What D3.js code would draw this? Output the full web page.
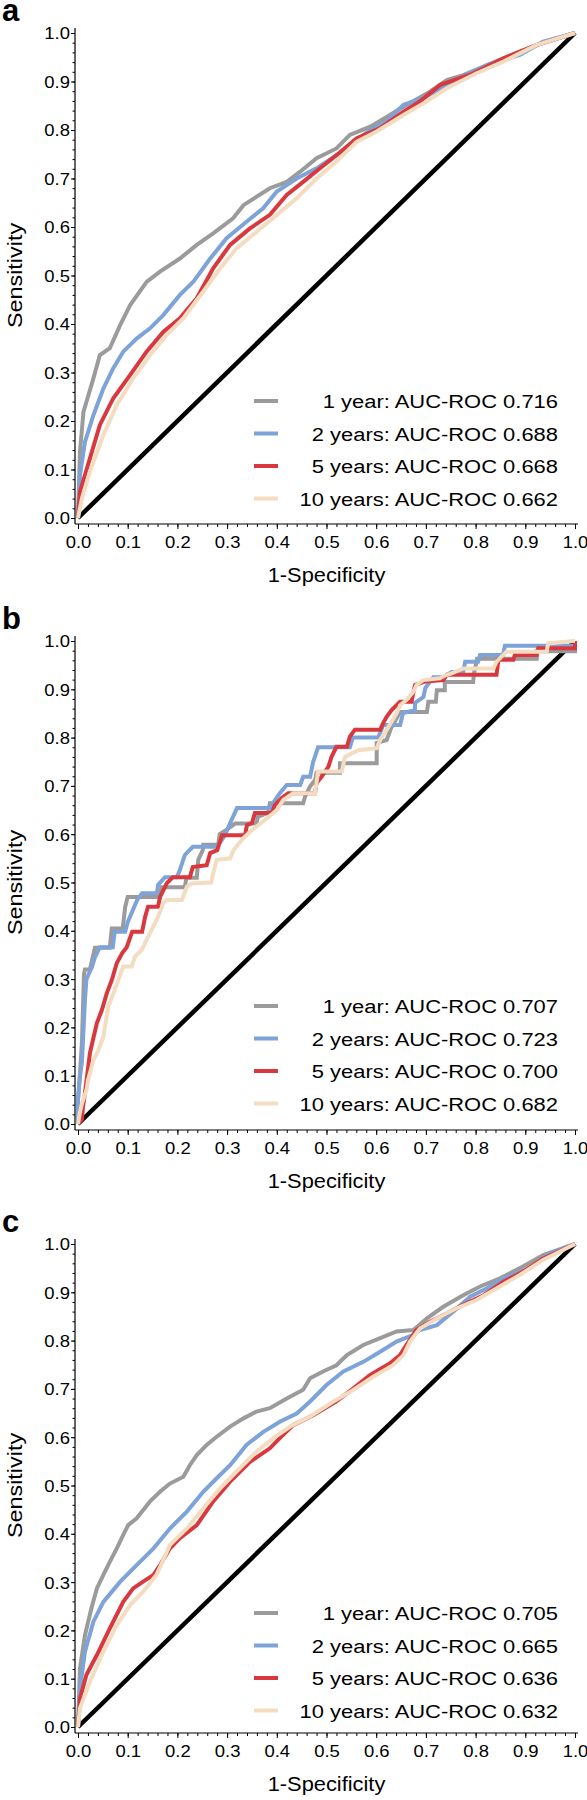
<!DOCTYPE html>
<html><head><meta charset="utf-8">
<script src="https://cdn.jsdelivr.net/npm/d3@7"></script>
<style>
html,body{margin:0;padding:0;background:#fff;}
svg{display:block;}
text{font-family:"Liberation Sans",Arial,Helvetica,sans-serif;fill:#000;}
</style></head>
<body><svg id="chart" width="587" height="1800"></svg>
<script>
// ---------- data ----------
const seriesNames = ["1 year", "2 years", "5 years", "10 years"];
const seriesColors = ["#9b9b9b", "#7da3d8", "#d9393e", "#f3dcc0"];
const aucA = ["0.716", "0.688", "0.668", "0.662"];
const aucB = ["0.707", "0.723", "0.700", "0.682"];
const aucC = ["0.705", "0.665", "0.636", "0.632"];
const majorTicks = [0, 0.1, 0.2, 0.3, 0.4, 0.5, 0.6, 0.7, 0.8, 0.9, 1.0];
const minorTicks = d3.range(0, 51).map(i => i / 50);
const diagonal = [[0, 0], [1, 1]];

// panel a : [1-specificity, sensitivity]
const a1 = [[0,0],[0.004,0.137],[0.011,0.219],[0.031,0.288],[0.044,0.336],[0.064,0.35],[0.085,0.398],[0.105,0.439],[0.138,0.487],[0.165,0.508],[0.205,0.535],[0.239,0.563],[0.272,0.587],[0.312,0.618],[0.333,0.645],[0.386,0.68],[0.42,0.693],[0.447,0.714],[0.48,0.742],[0.52,0.762],[0.547,0.79],[0.588,0.807],[0.621,0.827],[0.655,0.848],[0.708,0.879],[0.742,0.903],[0.775,0.913],[0.856,0.948],[0.922,0.975],[1,1]];
const a2 = [[0,0],[0.004,0.089],[0.014,0.157],[0.031,0.212],[0.051,0.267],[0.071,0.309],[0.091,0.343],[0.118,0.37],[0.145,0.391],[0.172,0.419],[0.205,0.46],[0.232,0.487],[0.266,0.535],[0.299,0.577],[0.339,0.611],[0.373,0.639],[0.4,0.673],[0.44,0.7],[0.48,0.721],[0.52,0.748],[0.547,0.769],[0.588,0.8],[0.621,0.818],[0.655,0.852],[0.695,0.866],[0.755,0.9],[0.822,0.934],[0.889,0.955],[0.936,0.982],[1,1]];
const a5 = [[0,0],[0.004,0.054],[0.024,0.123],[0.044,0.192],[0.071,0.247],[0.105,0.295],[0.138,0.343],[0.172,0.384],[0.205,0.412],[0.239,0.453],[0.272,0.515],[0.306,0.563],[0.346,0.597],[0.386,0.625],[0.42,0.666],[0.453,0.693],[0.487,0.721],[0.52,0.748],[0.561,0.783],[0.608,0.804],[0.655,0.838],[0.688,0.859],[0.729,0.893],[0.789,0.914],[0.856,0.948],[0.922,0.975],[1,1]];
const a10 = [[0,0],[0.008,0.041],[0.024,0.096],[0.051,0.171],[0.078,0.233],[0.111,0.288],[0.145,0.336],[0.178,0.377],[0.212,0.412],[0.252,0.467],[0.286,0.515],[0.319,0.556],[0.359,0.59],[0.4,0.625],[0.44,0.659],[0.48,0.7],[0.52,0.735],[0.561,0.776],[0.601,0.797],[0.655,0.831],[0.702,0.859],[0.742,0.886],[0.802,0.917],[0.856,0.941],[0.922,0.975],[1,1]];

// panel b
const b1 = [[0,0],[0,0.05],[0.004,0.105],[0.008,0.17],[0.012,0.31],[0.014,0.32],[0.024,0.32],[0.034,0.365],[0.064,0.365],[0.068,0.405],[0.09,0.405],[0.095,0.45],[0.1,0.47],[0.165,0.47],[0.168,0.49],[0.215,0.49],[0.218,0.51],[0.239,0.51],[0.242,0.547],[0.251,0.567],[0.252,0.578],[0.282,0.578],[0.285,0.6],[0.3,0.61],[0.316,0.622],[0.359,0.622],[0.362,0.636],[0.383,0.645],[0.386,0.664],[0.453,0.664],[0.457,0.678],[0.467,0.699],[0.477,0.712],[0.48,0.727],[0.527,0.727],[0.527,0.747],[0.601,0.747],[0.601,0.789],[0.621,0.795],[0.63,0.82],[0.648,0.853],[0.702,0.853],[0.705,0.874],[0.72,0.874],[0.722,0.898],[0.738,0.898],[0.738,0.915],[0.795,0.915],[0.797,0.934],[0.803,0.963],[0.923,0.963],[0.923,0.979],[1,0.979],[1,1]];
const b2 = [[0,0],[0,0.05],[0.003,0.09],[0.008,0.13],[0.014,0.257],[0.017,0.3],[0.028,0.325],[0.034,0.345],[0.044,0.366],[0.07,0.366],[0.074,0.398],[0.095,0.398],[0.1,0.418],[0.119,0.464],[0.129,0.478],[0.159,0.478],[0.161,0.495],[0.175,0.511],[0.199,0.511],[0.205,0.526],[0.215,0.557],[0.231,0.574],[0.28,0.574],[0.296,0.598],[0.306,0.623],[0.32,0.654],[0.386,0.654],[0.392,0.664],[0.406,0.685],[0.42,0.702],[0.447,0.702],[0.453,0.719],[0.467,0.719],[0.473,0.749],[0.483,0.78],[0.547,0.78],[0.553,0.8],[0.604,0.8],[0.61,0.815],[0.614,0.826],[0.648,0.826],[0.654,0.851],[0.678,0.857],[0.678,0.872],[0.695,0.884],[0.699,0.903],[0.715,0.925],[0.735,0.925],[0.752,0.936],[0.775,0.936],[0.779,0.957],[0.805,0.957],[0.809,0.971],[0.855,0.971],[0.859,0.99],[1,0.99],[1,1]];
const b5 = [[0,0],[0.008,0.01],[0.01,0.035],[0.014,0.064],[0.024,0.147],[0.03,0.174],[0.038,0.209],[0.048,0.236],[0.058,0.271],[0.068,0.298],[0.078,0.333],[0.089,0.354],[0.098,0.366],[0.109,0.398],[0.129,0.398],[0.135,0.429],[0.141,0.45],[0.161,0.45],[0.165,0.47],[0.179,0.499],[0.191,0.511],[0.225,0.511],[0.231,0.532],[0.259,0.536],[0.266,0.561],[0.28,0.567],[0.29,0.598],[0.336,0.598],[0.34,0.619],[0.35,0.623],[0.356,0.644],[0.39,0.644],[0.396,0.66],[0.41,0.675],[0.423,0.685],[0.477,0.685],[0.48,0.706],[0.49,0.719],[0.504,0.74],[0.51,0.76],[0.52,0.781],[0.541,0.781],[0.547,0.802],[0.557,0.816],[0.608,0.816],[0.614,0.83],[0.621,0.843],[0.631,0.857],[0.648,0.874],[0.671,0.874],[0.678,0.909],[0.698,0.916],[0.735,0.919],[0.742,0.93],[0.842,0.93],[0.846,0.961],[0.876,0.961],[0.879,0.971],[0.923,0.971],[0.926,0.985],[1,0.985],[1,1]];
const b10 = [[0,0],[0.003,0.02],[0.008,0.043],[0.017,0.07],[0.02,0.09],[0.031,0.132],[0.041,0.153],[0.051,0.181],[0.061,0.243],[0.071,0.27],[0.081,0.298],[0.091,0.326],[0.108,0.326],[0.115,0.347],[0.128,0.36],[0.138,0.381],[0.148,0.402],[0.158,0.422],[0.172,0.457],[0.178,0.464],[0.209,0.464],[0.219,0.491],[0.229,0.498],[0.268,0.5],[0.272,0.519],[0.279,0.547],[0.306,0.55],[0.313,0.567],[0.329,0.588],[0.346,0.605],[0.363,0.619],[0.38,0.633],[0.4,0.65],[0.413,0.671],[0.433,0.685],[0.477,0.685],[0.483,0.73],[0.531,0.73],[0.537,0.76],[0.564,0.774],[0.601,0.778],[0.608,0.795],[0.621,0.816],[0.631,0.833],[0.641,0.85],[0.648,0.867],[0.661,0.878],[0.675,0.895],[0.681,0.909],[0.695,0.919],[0.728,0.923],[0.742,0.93],[0.752,0.933],[0.775,0.943],[0.836,0.943],[0.842,0.957],[0.862,0.978],[0.943,0.978],[0.946,0.995],[0.997,1],[1,1]];

// panel c
const c1 = [[0,0],[0.004,0.121],[0.014,0.19],[0.027,0.246],[0.038,0.287],[0.051,0.315],[0.064,0.342],[0.078,0.37],[0.091,0.398],[0.101,0.418],[0.118,0.432],[0.145,0.467],[0.165,0.487],[0.185,0.504],[0.212,0.518],[0.225,0.542],[0.239,0.563],[0.259,0.584],[0.279,0.601],[0.306,0.622],[0.333,0.639],[0.359,0.653],[0.386,0.66],[0.42,0.68],[0.453,0.698],[0.467,0.722],[0.493,0.736],[0.52,0.749],[0.541,0.77],[0.574,0.791],[0.608,0.805],[0.641,0.819],[0.675,0.822],[0.702,0.846],[0.735,0.87],[0.775,0.894],[0.809,0.912],[0.849,0.929],[0.889,0.95],[0.936,0.977],[1,1]];
const c2 = [[0,0],[0.004,0.08],[0.014,0.156],[0.031,0.218],[0.051,0.259],[0.085,0.301],[0.118,0.335],[0.152,0.37],[0.185,0.411],[0.219,0.446],[0.252,0.487],[0.279,0.515],[0.306,0.542],[0.339,0.584],[0.373,0.611],[0.406,0.632],[0.44,0.649],[0.467,0.674],[0.5,0.708],[0.534,0.736],[0.574,0.756],[0.608,0.777],[0.641,0.798],[0.675,0.812],[0.688,0.822],[0.722,0.832],[0.755,0.86],[0.789,0.891],[0.822,0.908],[0.856,0.929],[0.909,0.95],[0.943,0.977],[1,1]];
const c5 = [[0,0],[0.004,0.059],[0.017,0.108],[0.038,0.149],[0.064,0.204],[0.091,0.259],[0.111,0.287],[0.131,0.301],[0.152,0.315],[0.165,0.335],[0.185,0.37],[0.205,0.391],[0.239,0.418],[0.272,0.467],[0.306,0.508],[0.346,0.549],[0.386,0.577],[0.406,0.598],[0.433,0.625],[0.474,0.646],[0.52,0.674],[0.554,0.701],[0.588,0.729],[0.628,0.753],[0.648,0.77],[0.661,0.791],[0.681,0.822],[0.708,0.839],[0.742,0.856],[0.775,0.874],[0.816,0.894],[0.856,0.922],[0.896,0.943],[0.936,0.97],[1,1]];
const c10 = [[0,0],[0.004,0.039],[0.024,0.094],[0.051,0.156],[0.078,0.211],[0.105,0.253],[0.131,0.28],[0.158,0.315],[0.185,0.377],[0.219,0.411],[0.252,0.453],[0.286,0.494],[0.319,0.529],[0.359,0.57],[0.393,0.598],[0.427,0.622],[0.467,0.643],[0.514,0.674],[0.554,0.698],[0.594,0.725],[0.634,0.749],[0.655,0.77],[0.668,0.798],[0.688,0.825],[0.722,0.846],[0.762,0.867],[0.802,0.884],[0.842,0.908],[0.889,0.936],[0.936,0.967],[1,1]];

// ---------- layout ----------
const X0 = 78, X1 = 575;
const panels = [
  {letter: "a", top: 33,   bottom: 518,  auc: aucA, curves: [a1, a2, a5, a10], legendTop: 117},
  {letter: "b", top: 641,  bottom: 1124, auc: aucB, curves: [b1, b2, b5, b10], legendTop: 118},
  {letter: "c", top: 1244, bottom: 1727, auc: aucC, curves: [c1, c2, c5, c10], legendTop: 114}
];
const TICK_SX = 1.12, LEG_SX = 1.155, TITLE_SX = 1.12, YT_SX = 1.2;

const svg = d3.select("#chart");
const fmt = d3.format(".1f");

panels.forEach(p => {
  const g = svg.append("g");
  const x = d3.scaleLinear().domain([0, 1]).range([X0, X1]);
  const y = d3.scaleLinear().domain([0, 1]).range([p.bottom, p.top]);
  const axisY = p.bottom + 6, axisX = X0 - 3;

  // panel letter
  g.append("text").attr("x", 2).attr("y", p.top - 12)
    .attr("font-size", 31).attr("font-weight", "bold").text(p.letter);

  // minor ticks
  g.append("g").attr("transform", `translate(${axisX},0)`)
    .call(d3.axisLeft(y).tickValues(minorTicks).tickSize(2.5).tickSizeOuter(0).tickFormat(""))
    .call(s => s.select(".domain").remove());
  g.append("g").attr("transform", `translate(0,${axisY})`)
    .call(d3.axisBottom(x).tickValues(minorTicks).tickSize(3).tickSizeOuter(0).tickFormat(""))
    .call(s => s.select(".domain").remove());

  // major y axis
  const ya = g.append("g").attr("transform", `translate(${axisX},0)`)
    .call(d3.axisLeft(y).tickValues(majorTicks).tickSize(4).tickSizeOuter(0).tickFormat(fmt));
  ya.select(".domain").remove();
  ya.selectAll("text").attr("font-size", 16.5).attr("font-family", null)
    .attr("x", -5 / TICK_SX).attr("dy", "0.36em")
    .attr("transform", `scale(${TICK_SX},1)`);
  // major x axis
  const xa = g.append("g").attr("transform", `translate(0,${axisY})`)
    .call(d3.axisBottom(x).tickValues(majorTicks).tickSize(5).tickSizeOuter(0).tickFormat(fmt));
  xa.select(".domain").remove();
  xa.selectAll("text").attr("font-size", 16.5).attr("font-family", null)
    .attr("y", 24).attr("dy", 0)
    .attr("transform", `scale(${TICK_SX},1)`);

  // axis lines
  g.append("line").attr("x1", axisX).attr("x2", axisX)
    .attr("y1", p.top - 5).attr("y2", axisY).attr("stroke", "#000").attr("stroke-width", 1.2);
  g.append("line").attr("x1", axisX).attr("x2", X1 + 3)
    .attr("y1", axisY).attr("y2", axisY).attr("stroke", "#000").attr("stroke-width", 1.2);

  // axis titles
  g.append("text")
    .attr("transform", `translate(${(X0 + X1) / 2},${p.bottom + 64}) scale(${TITLE_SX},1)`)
    .attr("text-anchor", "middle").attr("font-size", 19.5).text("1-Specificity");
  g.append("text")
    .attr("transform", `translate(22,${(p.top + p.bottom) / 2}) rotate(-90) scale(${YT_SX},1)`)
    .attr("text-anchor", "middle").attr("font-size", 19.5).text("Sensitivity");

  const line = d3.line().x(d => x(d[0])).y(d => y(d[1]));

  // diagonal reference
  g.append("path").datum(diagonal).attr("d", line)
    .attr("fill", "none").attr("stroke", "#000").attr("stroke-width", 4.5);

  // ROC curves
  p.curves.forEach((c, i) => {
    g.append("path").datum(c).attr("d", line)
      .attr("fill", "none").attr("stroke", seriesColors[i])
      .attr("stroke-width", 4).attr("stroke-linejoin", "miter");
  });

  // legend
  seriesNames.forEach((s, i) => {
    const ly = p.bottom - p.legendTop + i * 32.5;
    g.append("line").attr("x1", 254).attr("x2", 278).attr("y1", ly).attr("y2", ly)
      .attr("stroke", seriesColors[i]).attr("stroke-width", 4);
    g.append("text")
      .attr("transform", `translate(558,${ly + 7}) scale(${LEG_SX},1)`)
      .attr("text-anchor", "end").attr("font-size", 19)
      .text(`${s}: AUC-ROC ${p.auc[i]}`);
  });
});
</script></body></html>
